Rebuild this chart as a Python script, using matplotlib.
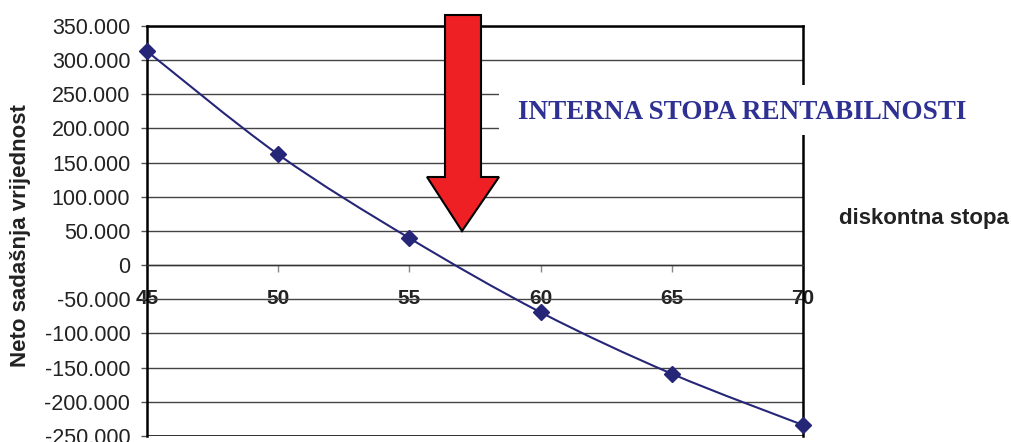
import numpy as np
import matplotlib.pyplot as plt
from matplotlib.path import Path
from matplotlib.patches import PathPatch, Polygon, Rectangle
from matplotlib.ticker import FuncFormatter

# discount rate (%) vs net present value
stope = [45, 50, 55, 60, 65, 70]
npv = [313000, 162000, 39500, -69000, -159000, -234000]

y_ticks = list(range(-250000, 350001, 50000))
line_color = '#262678'

plt.rcParams['font.family'] = ['Liberation Sans', 'DejaVu Sans']

fig = plt.figure(figsize=(10.11, 4.42), dpi=100)
ax = fig.add_axes([0.1454, 0.0136, 0.6489, 0.9276])

ax.set_xlim(45, 70)
ax.set_ylim(-250000, 350000)
ax.set_yticks(y_ticks)
ax.yaxis.set_major_formatter(FuncFormatter(lambda v, p: f'{int(v):,}'.replace(',', '.')))
ax.tick_params(axis='y', labelsize=15.5, length=4, width=1, color='#555555', pad=8,
               labelcolor='#222222')
ax.grid(axis='y', color='#444444', linewidth=1)
ax.set_axisbelow(True)

# x axis sits on the zero line, labels hang below it
ax.spines['bottom'].set_position(('data', 0))
ax.spines['bottom'].set_color('#333333')
ax.spines['bottom'].set_linewidth(1)
for s in ['left', 'right', 'top']:
    ax.spines[s].set_color('black')
    ax.spines[s].set_linewidth(1.8)
ax.axhline(-250000, color='black', linewidth=1.8)
ax.set_xticks(stope)
ax.tick_params(axis='x', length=5, width=1, color='#888888', pad=12, labelsize=15,
               labelcolor='#222222')
for lbl in ax.get_xticklabels():
    lbl.set_fontweight('bold')

# smoothed curve through the points (cubic Bezier segments)
pts = np.column_stack([stope, npv]).astype(float)
verts = [tuple(pts[0])]
codes = [Path.MOVETO]
n = len(pts)
for i in range(n - 1):
    p0 = pts[max(i - 1, 0)]
    p1 = pts[i]
    p2 = pts[i + 1]
    p3 = pts[min(i + 2, n - 1)]
    c1 = p1 + (p2 - p0) / 6
    c2 = p2 - (p3 - p1) / 6
    verts += [tuple(c1), tuple(c2), tuple(p2)]
    codes += [Path.CURVE4] * 3
ax.add_patch(PathPatch(Path(verts, codes), facecolor='none', edgecolor=line_color,
                       linewidth=1.5, zorder=3))
ax.plot(stope, npv, linestyle='none', marker='D', markersize=8,
        color=line_color, zorder=4, clip_on=False)

fig.text(0.02, 0.468, 'Neto sadašnja vrijednost', rotation=90, ha='center', va='center',
         fontsize=16, fontweight='bold', color='#222222')
fig.text(0.9975, 0.505, 'diskontna stopa', ha='right', va='center',
         fontsize=16, fontweight='bold', color='#222222')

# white band behind the heading
fig.patches.append(Rectangle((0.4936, 0.6946), 0.5064, 0.1131, transform=fig.transFigure,
                             facecolor='white', edgecolor='none', zorder=2))
fig.text(0.5124, 0.745, 'INTERNA STOPA RENTABILNOSTI', ha='left', va='center',
         fontsize=19.5, fontweight='bold', color='#2E3192',
         family=['Liberation Serif', 'DejaVu Serif'], zorder=3)

# red arrow pointing at the crossing
arrow_px = [(445, 15), (481, 15), (481, 177), (499, 177), (462, 231),
            (427, 177), (445, 177)]
W, H = 1011, 442
arrow = [(x / W, 1 - y / H) for x, y in arrow_px]
fig.patches.append(Polygon(arrow, closed=True, transform=fig.transFigure,
                           facecolor='#EE2024', edgecolor='black', linewidth=1.5, zorder=4))

fig.savefig('out.png', dpi=100)
